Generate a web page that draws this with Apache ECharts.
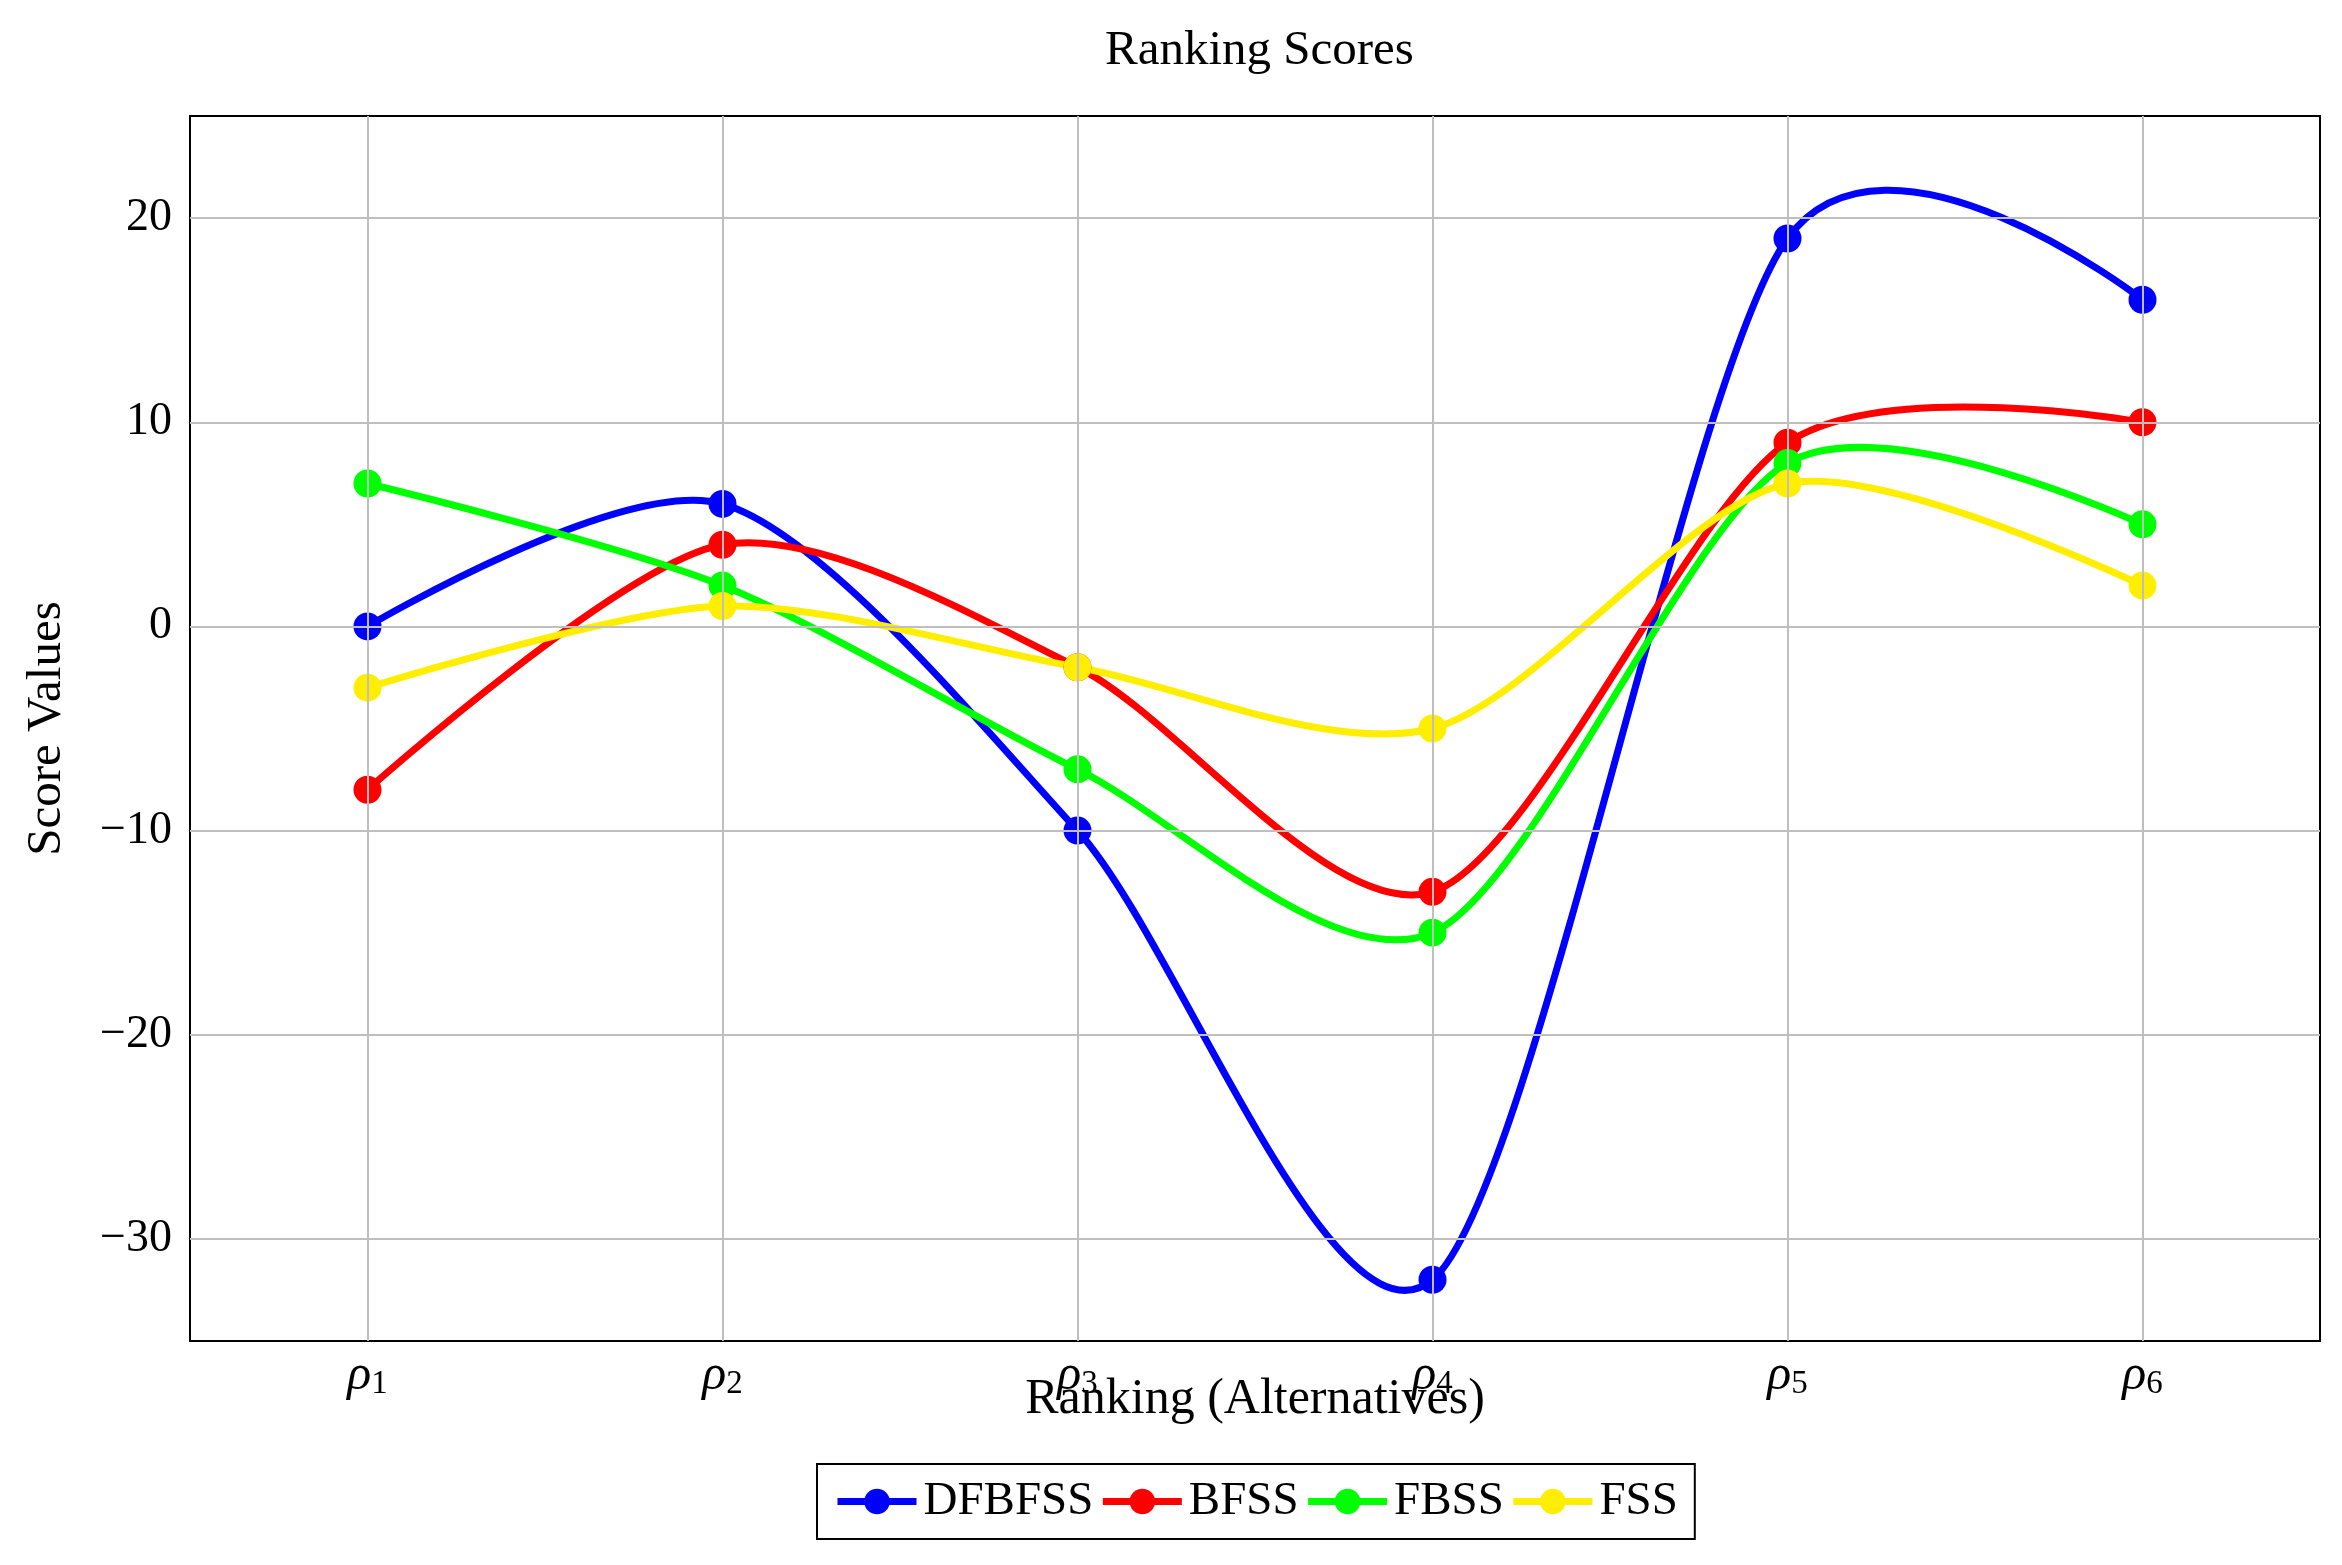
<!DOCTYPE html>
<html>
<head>
<meta charset="utf-8">
<script src="https://cdn.jsdelivr.net/npm/echarts@6/dist/echarts.min.js"></script>
<style>
html,body{margin:0;padding:0;background:#fff;}
#chart{width:2342px;height:1565px;}
</style>
</head>
<body>
<div id="chart"></div>
<script>
const categories = ['ρ1', 'ρ2', 'ρ3', 'ρ4', 'ρ5', 'ρ6'];
const seriesNames = ['DFBFSS', 'BFSS', 'FBSS', 'FSS'];
const dfbfss = [0, 6, -10, -32, 19, 16];
const bfss = [-8, 4, -2, -13, 9, 10];
const fbss = [7, 2, -7, -15, 8, 5];
const fss = [-3, 1, -2, -5, 7, 2];
const yTicks = [-30, -20, -10, 0, 10, 20];
const yMin = -35, yMax = 25;

const colors = ['#0000ff', '#ff0000', '#00ff00', '#ffee00'];
const FONT = '"Liberation Serif", "DejaVu Serif", serif';
const values = [dfbfss, bfss, fbss, fss];
const TENSION = 0.14;
const LINE_W = 7;

const chart = echarts.init(document.getElementById('chart'), null, {renderer: 'canvas'});

function smoothPath(pts, f) {
  const n = pts.length;
  let d = 'M' + pts[0][0] + ' ' + pts[0][1];
  for (let k = 0; k < n - 1; k++) {
    const a = pts[k], b = pts[k + 1];
    let c1 = a, c2 = b;
    if (k > 0) {
      c1 = [a[0] + f * (b[0] - pts[k - 1][0]), a[1] + f * (b[1] - pts[k - 1][1])];
    }
    if (k + 2 < n) {
      c2 = [b[0] - f * (pts[k + 2][0] - a[0]), b[1] - f * (pts[k + 2][1] - a[1])];
    }
    d += ' C' + c1[0] + ' ' + c1[1] + ' ' + c2[0] + ' ' + c2[1] + ' ' + b[0] + ' ' + b[1];
  }
  return d;
}

const gridLineStyle = {color: '#bfbfbf', width: 2, type: 'solid'};

const series = [{
  name: '_grid',
  type: 'line',
  data: [],
  z: 1,
  silent: true,
  markLine: {
    silent: true,
    symbol: ['none', 'none'],
    label: {show: false},
    lineStyle: gridLineStyle,
    animation: false,
    emphasis: {disabled: true},
    data: categories.map(c => ({xAxis: c})).concat(yTicks.map(v => ({yAxis: v})))
  }
}];

seriesNames.forEach((n, i) => {
  const vals = values[i];
  series.push({
    name: n + ' curve',
    type: 'custom',
    z: 3,
    silent: true,
    data: vals.map((v, k) => [k, v]),
    encode: {x: 0, y: 1},
    renderItem: function (params, api) {
      if (params.dataIndex !== 0) return null;
      const pts = vals.map((v, k) => api.coord([k, v]));
      return {
        type: 'path',
        shape: {pathData: smoothPath(pts, TENSION)},
        style: {fill: 'none', stroke: colors[i], lineWidth: LINE_W, lineJoin: 'round', lineCap: 'round'}
      };
    }
  });
  series.push({
    name: n,
    type: 'line',
    data: vals,
    symbol: 'circle',
    symbolSize: 28,
    showSymbol: true,
    z: 3,
    lineStyle: {width: LINE_W, color: colors[i], opacity: 0},
    itemStyle: {color: colors[i]},
    emphasis: {disabled: true}
  });
});

const tickStyle = {show: true, inside: true, length: 18, lineStyle: {color: '#7f7f7f', width: 2}};

chart.setOption({
  animation: false,
  backgroundColor: '#ffffff',
  title: {
    text: 'Ranking Scores',
    left: 1100,
    top: 22,
    textStyle: {fontFamily: FONT, fontSize: 49, fontWeight: 'normal', color: '#000'}
  },
  legend: {
    data: seriesNames.map((n, i) => ({
      name: n,
      itemStyle: {color: colors[i]},
      lineStyle: {color: colors[i], width: LINE_W, opacity: 1}
    })),
    top: 1464,
    left: 817,
    orient: 'horizontal',
    itemWidth: 79,
    itemHeight: 32,
    itemGap: 6,
    padding: [14, 17],
    borderColor: '#000',
    borderWidth: 2,
    borderRadius: 0,
    textStyle: {fontFamily: FONT, fontSize: 47, color: '#000', padding: [0, 0, 0, 2]}
  },
  grid: {left: 190, right: 22, top: 116, bottom: 224, show: true, borderColor: '#000', borderWidth: 2, backgroundColor: 'transparent'},
  xAxis: [{
    type: 'category',
    data: categories,
    boundaryGap: true,
    name: 'Ranking (Alternatives)',
    nameLocation: 'middle',
    nameGap: 34,
    nameMoveOverlap: false,
    nameTextStyle: {fontFamily: FONT, fontSize: 50, color: '#000'},
    axisLine: {show: true, lineStyle: {color: '#000', width: 2}},
    axisTick: Object.assign({alignWithLabel: true}, tickStyle),
    splitLine: {show: false},
    axisLabel: {
      margin: 10,
      formatter: v => '{r|ρ}{s|' + v.slice(1) + '}',
      rich: {
        r: {fontFamily: FONT, fontSize: 50, fontStyle: 'italic', color: '#000'},
        s: {fontFamily: FONT, fontSize: 33, color: '#000', verticalAlign: 'bottom', padding: [16, 0, 0, 0]}
      }
    }
  }, {
    type: 'category',
    data: categories,
    position: 'top',
    boundaryGap: true,
    axisLine: {show: false},
    axisTick: Object.assign({alignWithLabel: true}, tickStyle),
    axisLabel: {show: false},
    splitLine: {show: false}
  }],
  yAxis: [{
    type: 'value',
    min: yMin,
    max: yMax,
    interval: 5,
    name: 'Score Values',
    nameLocation: 'middle',
    nameGap: 118,
    nameMoveOverlap: false,
    nameTextStyle: {fontFamily: FONT, fontSize: 49, color: '#000'},
    axisLine: {show: true, lineStyle: {color: '#000', width: 2}},
    axisTick: Object.assign({customValues: yTicks}, tickStyle),
    splitLine: {show: false},
    axisLabel: {
      margin: 18,
      fontFamily: FONT,
      fontSize: 46,
      color: '#000',
      customValues: yTicks,
      formatter: v => (yTicks.indexOf(v) >= 0 ? (v < 0 ? '\u2212' + Math.abs(v) : String(v)) : '')
    }
  }, {
    type: 'value',
    min: yMin,
    max: yMax,
    interval: 5,
    position: 'right',
    axisLine: {show: false},
    axisTick: Object.assign({customValues: yTicks}, tickStyle),
    axisLabel: {show: false},
    splitLine: {show: false}
  }],
  series: series
});
</script>
</body>
</html>
